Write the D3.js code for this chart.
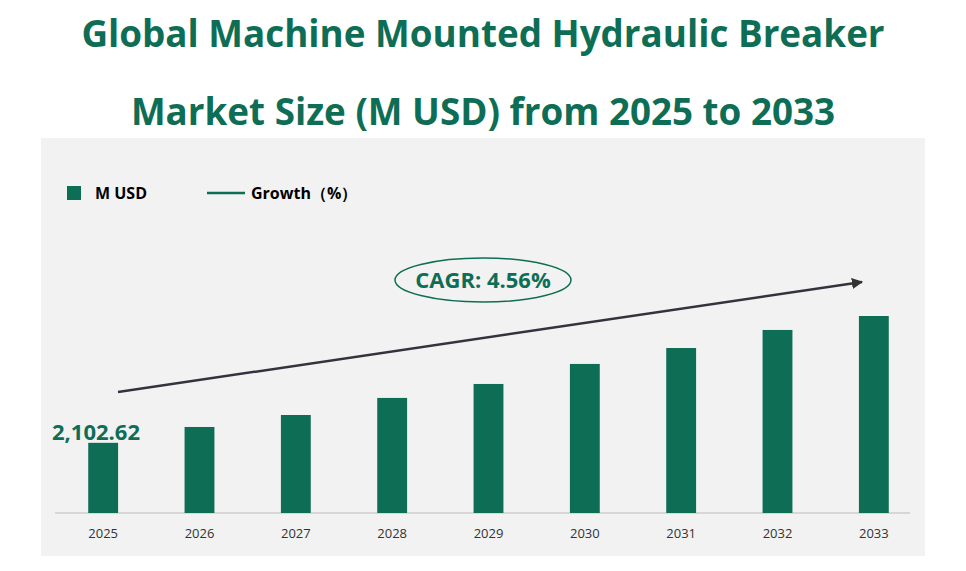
<!DOCTYPE html>
<html><head><meta charset="utf-8">
<script src="https://cdn.jsdelivr.net/npm/d3@7"></script>
<style>body{margin:0;background:#fff;font-family:"Open Sans",Calibri,sans-serif}</style>
</head><body><div id="chart"></div>
<script>
var years = ['2025','2026','2027','2028','2029','2030','2031','2032','2033'],
    values = [2102.62, 2215, 2300, 2421, 2520, 2662, 2775, 2903, 3002],
    cagr = '4.56%',
    green = '#0e6e55';

var width = 966, height = 571,
    svg = d3.select('#chart').append('svg').attr('width', width).attr('height', height);

svg.append('rect').attr('x', 41).attr('y', 138).attr('width', 884).attr('height', 418).attr('fill', '#f2f2f2');

svg.selectAll('.title').data(['Global Machine Mounted Hydraulic Breaker', 'Market Size (M USD) from 2025 to 2033'])
    .enter().append('text')
    .attr('x', 483).attr('y', function(d, i) { return 47 + i * 78; })
    .attr('text-anchor', 'middle').attr('fill', green)
    .attr('font-size', 36.8).attr('font-weight', 'bold').text(function(d) { return d; });

var x = d3.scaleBand().domain(years).range([55, 922]).paddingInner(0.69).paddingOuter(0.345);
var y = d3.scaleLinear().domain([1605, 3002]).range([513, 316]);

svg.append('line').attr('x1', 55).attr('x2', 910).attr('y1', 513).attr('y2', 513).attr('stroke', '#bbb');

svg.selectAll('.bar').data(values).enter().append('rect')
    .attr('x', function(d, i) { return x(years[i]); })
    .attr('width', x.bandwidth())
    .attr('y', function(d) { return y(d); })
    .attr('height', function(d) { return 513 - y(d); })
    .attr('fill', green);

svg.selectAll('.yr').data(years).enter().append('text')
    .attr('x', function(d) { return x(d) + x.bandwidth() / 2; }).attr('y', 538)
    .attr('text-anchor', 'middle').attr('font-size', 13).attr('fill', '#333').text(function(d) { return d; });

svg.append('text').attr('x', 96).attr('y', 440).attr('text-anchor', 'middle')
    .attr('fill', green).attr('font-size', 22).attr('font-weight', 'bold')
    .text(d3.format(',.2f')(values[0]));

// legend
svg.append('rect').attr('x', 67).attr('y', 186).attr('width', 14).attr('height', 14).attr('fill', green);
svg.append('text').attr('x', 95).attr('y', 199).attr('font-size', 16).attr('font-weight', 'bold').text('M USD');
svg.append('line').attr('x1', 207).attr('x2', 245).attr('y1', 193).attr('y2', 193).attr('stroke', green).attr('stroke-width', 2.5);
svg.append('text').attr('x', 251).attr('y', 199).attr('font-size', 16).attr('font-weight', 'bold').text('Growth（%）');

// CAGR arrow
svg.append('defs').append('marker').attr('id', 'ah').attr('viewBox', '0 0 10 10')
    .attr('refX', 9).attr('refY', 5).attr('markerWidth', 4.5).attr('markerHeight', 4.5).attr('orient', 'auto')
    .append('path').attr('d', 'M0,0L10,5L0,10z').attr('fill', '#333');
svg.append('line').attr('x1', 118).attr('y1', 392).attr('x2', 862).attr('y2', 282)
    .attr('stroke', '#333340').attr('stroke-width', 2.5).attr('marker-end', 'url(#ah)');
svg.append('ellipse').attr('cx', 483).attr('cy', 280).attr('rx', 88).attr('ry', 22)
    .attr('fill', '#f2f2f2').attr('stroke', green).attr('stroke-width', 1.5);
svg.append('text').attr('x', 483).attr('y', 288).attr('text-anchor', 'middle')
    .attr('fill', green).attr('font-size', 22).attr('font-weight', 'bold').text('CAGR:  ' + cagr);
</script></body></html>
